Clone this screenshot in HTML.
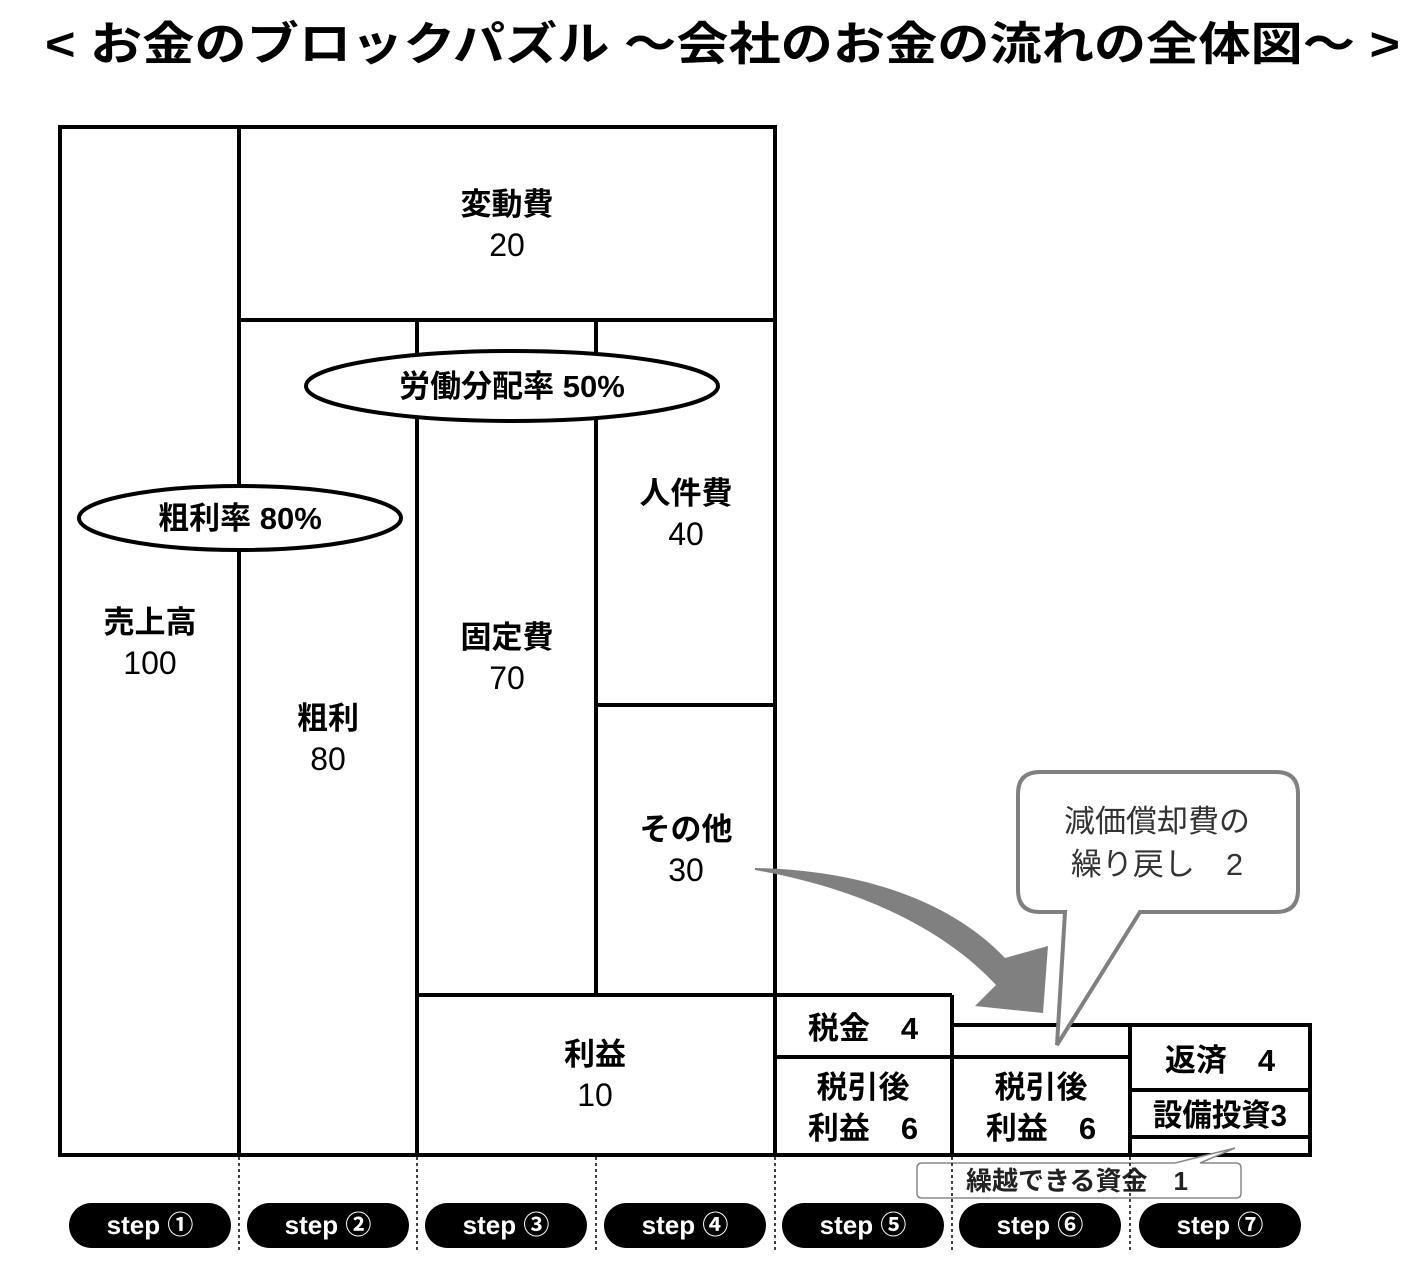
<!DOCTYPE html>
<html><head><meta charset="utf-8"><style>
html,body{margin:0;padding:0;background:#fff;}
svg{display:block;}
text{font-family:"Liberation Sans","Noto Sans CJK JP",sans-serif;}
.l{font-size:31px;font-weight:bold;text-anchor:middle;}
.n{font-size:32px;text-anchor:middle;}
.s{font-size:26px;font-weight:bold;fill:#fff;text-anchor:middle;}
</style></head><body>
<svg width="1414" height="1280" viewBox="0 0 1414 1280" xmlns="http://www.w3.org/2000/svg">
<text x="45" y="60" font-size="46" font-weight="bold" textLength="1355" lengthAdjust="spacingAndGlyphs">&lt; お金のブロックパズル ～会社のお金の流れの全体図～ &gt;</text>

<g fill="none" stroke="#000" stroke-width="4">
<rect x="60" y="127" width="715" height="1028"/>
<line x1="239" y1="127" x2="239" y2="1155"/>
<line x1="239" y1="320" x2="775" y2="320"/>
<line x1="417" y1="320" x2="417" y2="1155"/>
<line x1="596" y1="320" x2="596" y2="995"/>
<line x1="596" y1="705" x2="775" y2="705"/>
<line x1="417" y1="995" x2="952" y2="995"/>
<polyline points="775,1155 1310,1155 1310,1025 952,1025"/>
<line x1="952" y1="995" x2="952" y2="1155"/>
<line x1="775" y1="1057" x2="1130" y2="1057"/>
<line x1="1130" y1="1025" x2="1130" y2="1155"/>
<line x1="1130" y1="1090" x2="1310" y2="1090"/>
<line x1="1130" y1="1137" x2="1310" y2="1137"/>
</g>

<ellipse cx="512" cy="386" rx="206" ry="35" fill="#fff" stroke="#000" stroke-width="4"/>
<ellipse cx="240" cy="518" rx="161" ry="32" fill="#fff" stroke="#000" stroke-width="4"/>
<text class="l" x="512" y="397" font-weight="bold">労働分配率 50%</text>
<text class="l" x="240" y="529">粗利率 80%</text>

<text class="l" x="507" y="215">変動費</text><text class="n" x="507" y="256">20</text>
<text class="l" x="150" y="633">売上高</text><text class="n" x="150" y="674">100</text>
<text class="l" x="328" y="729">粗利</text><text class="n" x="328" y="770">80</text>
<text class="l" x="507" y="648">固定費</text><text class="n" x="507" y="689">70</text>
<text class="l" x="686" y="504">人件費</text><text class="n" x="686" y="545">40</text>
<text class="l" x="686" y="840">その他</text><text class="n" x="686" y="881">30</text>
<text class="l" x="595" y="1065">利益</text><text class="n" x="595" y="1106">10</text>
<text class="l" x="863" y="1039">税金　4</text>
<text class="l" x="863" y="1098">税引後</text><text class="l" x="863" y="1139">利益　6</text>
<text class="l" x="1041" y="1098">税引後</text><text class="l" x="1041" y="1139">利益　6</text>
<text class="l" x="1220" y="1071">返済　4</text>
<text class="l" x="1220" y="1126" font-size="28" textLength="134" lengthAdjust="spacingAndGlyphs">設備投資3</text>

<!-- arrow -->
<path d="M755,868 C860,870 950,900 1005,958 L1048,946 L1043,1013 L975,1006 L996,985 C950,935 870,890 755,870 Z" fill="#808080"/>

<!-- callout -->
<path d="M1040,772 L1276,772 Q1298,772 1298,794 L1298,890 Q1298,912 1276,912 L1140,912 L1057,1045 L1065,912 L1040,912 Q1018,912 1018,890 L1018,794 Q1018,772 1040,772 Z" fill="#fff" stroke="#808080" stroke-width="4"/>
<text x="1157" y="832" font-size="31" text-anchor="middle" fill="#333">減価償却費の</text>
<text x="1157" y="875" font-size="31" text-anchor="middle" fill="#333">繰り戻し　2</text>

<!-- carryover -->
<path d="M922,1163 L1175,1163 L1235,1148 L1200,1163 L1236,1163 Q1241,1163 1241,1168 L1241,1193 Q1241,1198 1236,1198 L922,1198 Q917,1198 917,1193 L917,1168 Q917,1163 922,1163 Z" fill="#fff" stroke="#888" stroke-width="1.5"/>
<text x="1077" y="1190" font-size="26" text-anchor="middle" font-weight="bold" fill="#222">繰越できる資金　1</text>

<g stroke="#000" stroke-width="1.5" stroke-dasharray="3,3">
<line x1="239" y1="1157" x2="239" y2="1250"/><line x1="417" y1="1157" x2="417" y2="1250"/>
<line x1="596" y1="1157" x2="596" y2="1250"/><line x1="775" y1="1157" x2="775" y2="1250"/>
<line x1="952" y1="1157" x2="952" y2="1250"/><line x1="1130" y1="1157" x2="1130" y2="1250"/>
</g>

<g>
<rect x="69" y="1203" width="162" height="45" rx="22.5"/><text class="s" x="150" y="1234">step ①</text>
<rect x="247" y="1203" width="162" height="45" rx="22.5"/><text class="s" x="328" y="1234">step ②</text>
<rect x="425" y="1203" width="162" height="45" rx="22.5"/><text class="s" x="506" y="1234">step ③</text>
<rect x="604" y="1203" width="162" height="45" rx="22.5"/><text class="s" x="685" y="1234">step ④</text>
<rect x="782" y="1203" width="162" height="45" rx="22.5"/><text class="s" x="863" y="1234">step ⑤</text>
<rect x="959" y="1203" width="162" height="45" rx="22.5"/><text class="s" x="1040" y="1234">step ⑥</text>
<rect x="1139" y="1203" width="162" height="45" rx="22.5"/><text class="s" x="1220" y="1234">step ⑦</text>
</g>
</svg>
</body></html>
